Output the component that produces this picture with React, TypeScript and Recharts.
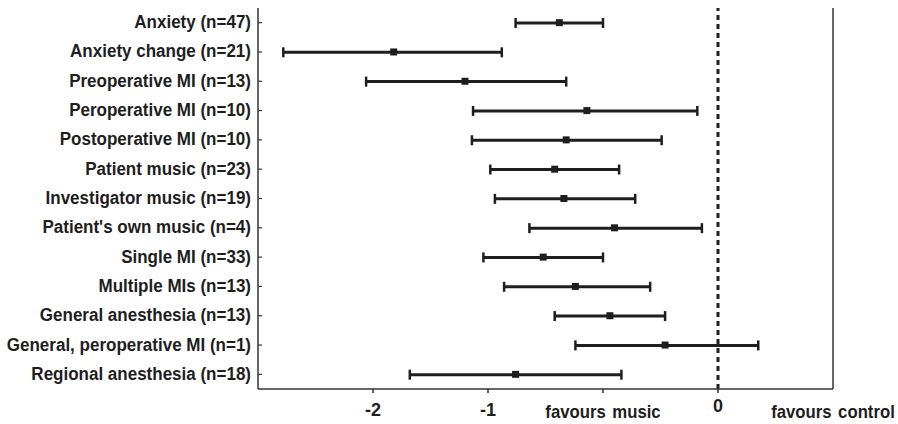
import { Bar, ComposedChart, Line, ReferenceLine, XAxis, YAxis } from "recharts";

// subgroup forest plot: mean difference with 95% CI
const subgroups = [
  "Anxiety (n=47)",
  "Anxiety change (n=21)",
  "Preoperative MI (n=13)",
  "Peroperative MI (n=10)",
  "Postoperative MI (n=10)",
  "Patient music (n=23)",
  "Investigator music (n=19)",
  "Patient's own music (n=4)",
  "Single MI (n=33)",
  "Multiple MIs (n=13)",
  "General anesthesia (n=13)",
  "General, peroperative MI (n=1)",
  "Regional anesthesia (n=18)",
];
const meanDiff = [-1.38, -2.82, -2.2, -1.14, -1.32, -1.42, -1.34, -0.9, -1.52, -1.24, -0.94, -0.46, -1.76];
const ciLow = [-1.76, -3.78, -3.06, -2.13, -2.14, -1.98, -1.94, -1.64, -2.04, -1.86, -1.42, -1.24, -2.68];
const ciHigh = [-1.0, -1.88, -1.32, -0.18, -0.49, -0.86, -0.72, -0.14, -1.0, -0.59, -0.46, 0.35, -0.84];

const xTickValues = [-3, -2, -1, 0, 1];
const xTickLabels = ["-2", "-1", "favours music", "0", "favours control"];

const rows = subgroups.map((name, i) => ({
  name,
  mean: meanDiff[i],
  ci: [ciLow[i], ciHigh[i]],
}));

const INK = "#1e1e1e";
const AXIS = "#333";
const FONT = "'Liberation Sans', Arial, Helvetica, sans-serif";

function CiWhisker(props: any) {
  const { x, y, width, height } = props;
  const x0 = Math.min(x, x + width);
  const x1 = Math.max(x, x + width);
  const cy = y + height / 2;
  return (
    <g stroke={INK}>
      <line x1={x0} x2={x1} y1={cy} y2={cy} strokeWidth={3} />
      <line x1={x0} x2={x0} y1={cy - 5} y2={cy + 5} strokeWidth={2.5} />
      <line x1={x1} x2={x1} y1={cy - 5} y2={cy + 5} strokeWidth={2.5} />
    </g>
  );
}

function MeanMark(props: any) {
  const { cx, cy } = props;
  if (cx == null || cy == null) return null;
  return <rect x={cx - 3.5} y={cy - 3.5} width={7} height={7} fill={INK} />;
}

// labels in the source are a slightly condensed bold sans
function YTick(props: any) {
  const { x, y, payload } = props;
  return (
    <g>
      <line x1={x} x2={x + 4} y1={y} y2={y} stroke={AXIS} strokeWidth={1.2} />
      <text
        transform={`translate(${x - 7} ${y + 5.5}) scale(0.945 1)`}
        textAnchor="end"
        fontFamily={FONT}
        fontWeight="bold"
        fontSize={18}
        fill={INK}
      >
        {payload.value}
      </text>
    </g>
  );
}

function XTick(props: any) {
  const { x, y, payload } = props;
  const label = xTickLabels[xTickValues.indexOf(payload.value)];
  const isNote = label.startsWith("favours");
  const dy = isNote ? 29 : label === "0" ? 23 : 27;
  return (
    <g>
      {payload.value < 1 && <line x1={x} x2={x} y1={y} y2={y + 4} stroke={AXIS} strokeWidth={1.5} />}
      <text
        transform={`translate(${x} ${y + dy}) scale(${isNote ? 0.93 : 1} 1)`}
        textAnchor="middle"
        fontFamily={FONT}
        fontWeight="bold"
        fontSize={18}
        wordSpacing={isNote ? 2 : 0}
        fill={INK}
      >
        {label}
      </text>
    </g>
  );
}

export default function App() {
  return (
    <div
      style={{
        position: "fixed",
        left: 0,
        top: 0,
        width: 898,
        height: 424,
        overflow: "hidden",
        background: "#fff",
      }}
    >
      <ComposedChart
        layout="vertical"
        width={898}
        height={424}
        data={rows}
        margin={{ top: 8, right: 65, bottom: 0, left: 0 }}
      >
        <XAxis
          type="number"
          domain={[-4, 1]}
          ticks={xTickValues}
          interval={0}
          allowDataOverflow
          height={35}
          tickSize={0}
          tickMargin={0}
          tickLine={false}
          tick={<XTick />}
          axisLine={{ stroke: AXIS, strokeWidth: 1.5 }}
        />
        <YAxis
          type="category"
          dataKey="name"
          width={258}
          interval={0}
          tickSize={0}
          tickMargin={0}
          tickLine={false}
          tick={<YTick />}
          axisLine={{ stroke: AXIS, strokeWidth: 1.5 }}
        />
        <ReferenceLine x={1} stroke={AXIS} strokeWidth={1.5} />
        <ReferenceLine x={0} stroke={INK} strokeWidth={3} strokeDasharray="5 4" />
        <Bar dataKey="ci" barSize={10} shape={<CiWhisker />} isAnimationActive={false} />
        <Line
          dataKey="mean"
          stroke="none"
          strokeWidth={0}
          dot={<MeanMark />}
          activeDot={false}
          isAnimationActive={false}
        />
      </ComposedChart>
    </div>
  );
}
